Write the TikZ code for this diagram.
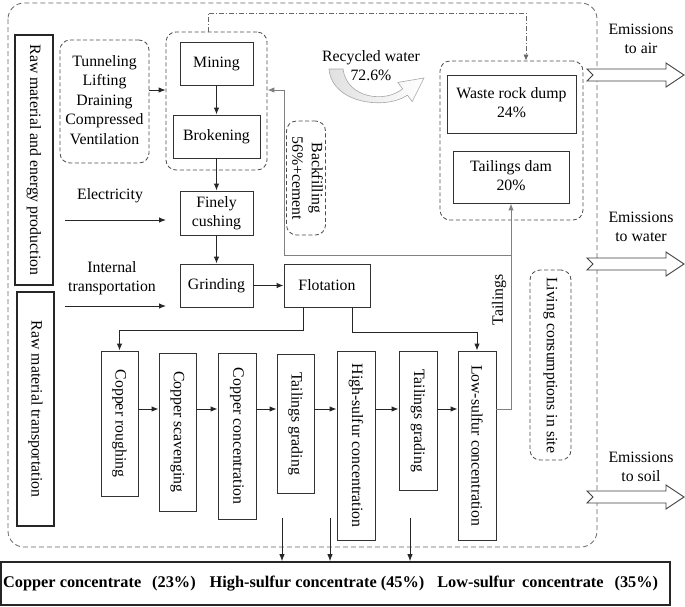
\documentclass[tikz,border=0pt]{standalone}
\usepackage{fontspec}
\setmainfont{Liberation Serif}
\usetikzlibrary{arrows.meta}
\newcommand{\tl}[1]{\begin{tabular}{@{}c@{}}#1\end{tabular}}
\begin{document}
\begin{tikzpicture}[x=1pt,y=-1pt,
  every node/.style={font=\fontsize{15.8}{19.5}\selectfont, inner sep=0pt, align=center},
  box/.style={draw=black!80, line width=0.9pt, rectangle},
  thickbox/.style={draw=black!85, line width=1.7pt, rectangle},
  dbox/.style={draw=black!70, dash pattern=on 4pt off 2.5pt, rounded corners=10pt, line width=0.8pt, rectangle},
  arr/.style={draw=black!85, line width=0.9pt, -{Latex[length=7pt,width=5.5pt]}},
  garr/.style={draw=black!50, line width=1pt, -{Latex[length=7pt,width=5.5pt]}},
  dashdotline/.style={draw=black!60, line width=0.6pt, dash pattern=on 5pt off 2pt on 1pt off 2pt, -{Latex[length=6pt,width=5pt]}},
  emarrow/.style={draw=black!75, line width=0.9pt, fill=white},
  outerdash/.style={draw=black!60, line width=0.8pt, dash pattern=on 5pt off 3pt, rounded corners=16pt}
]
\useasboundingbox (0,0) rectangle (685,606);

% outer dashed frame
\draw[outerdash] (8,3) rectangle (597,547);

% left boxes
\node[thickbox, minimum width=38pt, minimum height=250pt] (raw1) at (34,160) {\rotatebox{-90}{Raw material and energy production}};
\node[thickbox, minimum width=37pt, minimum height=234pt] (raw2) at (35.5,409) {\rotatebox{-90}{Raw material transportation}};

% tunneling
\node[dbox, minimum width=89pt, minimum height=123pt] (tunnel) at (104.5,101.5) {\tl{Tunneling\\Lifting\\Draining\\Compressed\\Ventilation}};

% mining group
\node[dbox, minimum width=101pt, minimum height=138pt] (mgroup) at (216.5,101) {};
\node[box, minimum width=73pt, minimum height=43pt] (mining) at (216.5,63.5) {Mining};
\node[box, minimum width=87pt, minimum height=43pt] (broken) at (216.5,136.5) {Brokening};
\node[box, minimum width=73pt, minimum height=44pt] (finely) at (216.5,213) {\tl{Finely\\cushing}};
\node[box, minimum width=73pt, minimum height=43pt] (grinding) at (216.5,285.5) {Grinding};
\node[box, minimum width=86pt, minimum height=43pt] (flot) at (327,285.5) {Flotation};

% backfilling
\node[dbox, minimum width=36pt, minimum height=114pt] (backfill) at (306,178) {\rotatebox{-90}{\tl{Backfilling\\56\%+cement}}};

% recycled water
\node (recyc) at (371,67) {\tl{Recycled water\\72.6\%}};
\shadedraw[draw=black!35, left color=black!12, right color=white, line width=0.6pt]
  (343,69) .. controls (347,99) and (386,103) .. (402.6,88.8)
  -- (397.8,82.4) -- (424,78) -- (412.2,101.6) -- (407.4,95.2)
  .. controls (386,110) and (332,104) .. (329,69) -- cycle;

% waste group
\node[dbox, minimum width=143pt, minimum height=159pt] (wgroup) at (511.5,140.5) {};
\node[box, minimum width=129pt, minimum height=58pt] (waste) at (511.5,104) {\tl{Waste rock dump\\24\%}};
\node[box, minimum width=116pt, minimum height=52pt] (tdam) at (511,177) {\tl{Tailings dam\\20\%}};

% emissions
\node (eair) at (641,40) {\tl{Emissions\\to air}};
\node (ewater) at (641,228) {\tl{Emissions\\to water}};
\node (esoil) at (641,468) {\tl{Emissions\\to soil}};
\foreach \yy in {75,264,497}{
  \draw[emarrow] (587,\yy-6) -- (666,\yy-6) -- (666,\yy-12) -- (684,\yy) -- (666,\yy+12) -- (666,\yy+6) -- (587,\yy+6) -- (593,\yy) -- cycle;
}

% living consumptions
\node[dbox, minimum width=41pt, minimum height=190pt] (living) at (550.5,365) {\rotatebox{-90}{Living consumptions in site}};
\node (tailings) at (499,300) {\rotatebox{90}{Tailings}};

% electricity / transport labels
\node (elec) at (110,196) {Electricity};
\node (itrans) at (112,278) {\tl{Internal\\transportation}};
\coordinate (e1s) at (65,220);
\coordinate (e1e) at (166,220);
\coordinate (e2s) at (65,306);
\coordinate (e2e) at (166,306);

% vertical process boxes
\node[box, minimum width=37pt, minimum height=145pt] (cr) at (119.5,423.5) {\rotatebox{-90}{Copper roughing}};
\node[box, minimum width=37pt, minimum height=158pt] (cs) at (177.5,432) {\rotatebox{-90}{Copper scavenging}};
\node[box, minimum width=38pt, minimum height=166pt] (cc) at (237,436) {\rotatebox{-90}{Copper concentration}};
\node[box, minimum width=37pt, minimum height=139pt] (tg1) at (295.5,423.5) {\rotatebox{-90}{Tailings grading}};
\node[box, minimum width=38pt, minimum height=189pt] (hs) at (356,445.5) {\rotatebox{-90}{High-sulfur concentration}};
\node[box, minimum width=38pt, minimum height=139pt] (tg2) at (418,420.5) {\rotatebox{-90}{Tailings grading}};
\node[box, minimum width=38pt, minimum height=189pt] (ls) at (477,445.5) {\rotatebox{-90}{Low-sulfur concentration}};

% bottom box
\node[thickbox, minimum width=669pt, minimum height=43pt] (bot) at (335.5,583.5) {};
\node[anchor=west, font=\bfseries\fontsize{16.3}{19}\selectfont] (bt) at (3,584) {Copper concentrate\hspace{11pt}(23\%)\hspace{14pt}High-sulfur concentrate (45\%)\hspace{13pt}Low-sulfur\hspace{7pt}concentrate\hspace{11pt}(35\%)};

% connectors
\draw[arr] (tunnel.east |- 0,90) -- (mgroup.west |- 0,90);
\draw[arr] (mining) -- (broken);
\draw[arr] (broken) -- (finely);
\draw[arr] (finely) -- (grinding);
\draw[arr] (grinding) -- (flot);
\draw[arr] (e1s) -- (e1e);
\draw[arr] (e2s) -- (e2e);

\draw[arr] ([xshift=-24pt]flot.south) |- (cr.north |- 0,330) -- (cr.north);
\draw[arr] ([xshift=25pt]flot.south) |- (ls.north |- 0,332) -- (ls.north);

\draw[arr] (cr.east |- 0,409) -- (cs.west |- 0,409);
\draw[arr] (cs.east |- 0,409) -- (cc.west |- 0,409);
\draw[arr] (cc.east |- 0,409) -- (tg1.west |- 0,409);
\draw[arr] (tg1.east |- 0,409) -- (hs.west |- 0,409);
\draw[arr] (hs.east |- 0,409) -- (tg2.west |- 0,409);
\draw[arr] (tg2.east |- 0,409) -- (ls.west |- 0,409);

\coordinate (d1) at (282,518);
\coordinate (d2) at (330,518);
\coordinate (d3) at (410,518);
\draw[arr] (d1) -- (d1 |- bot.north);
\draw[arr] (d2) -- (d2 |- bot.north);
\draw[arr] (d3) -- (d3 |- bot.north);

% tailings and backfill (gray)
\draw[garr] (ls.east |- 0,409) -| (tdam.south);
\coordinate (tj) at (511,255);
\draw[garr] (tj) -| (284,90) -- (mgroup.east |- 0,90);

% dash-dot line from mining group to waste group
\draw[dashdotline] (mgroup.north -| 208,0) |- (526,13) -- (wgroup.north -| 526,0);
\end{tikzpicture}
\end{document}
